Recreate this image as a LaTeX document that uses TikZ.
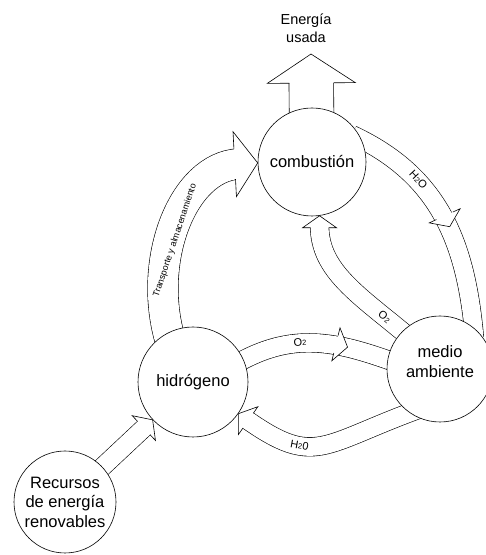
\documentclass[tikz,border=0pt]{standalone}
\usepackage{fontspec}
\setmainfont{Liberation Sans}
\usetikzlibrary{calc, decorations.markings, backgrounds}
\newcommand{\smallnum}[1]{{\fontsize{7.5}{8}\selectfont #1}}

\begin{document}
\begin{tikzpicture}[x=1pt, y=1pt,
  stock/.style={circle, draw, fill=white, line width=0.6pt, inner sep=0pt,
    minimum size=#1, align=center, font=\fontsize{16.5}{19.5}\selectfont},
  flow/.style={draw, line width=0.6pt, double=white, double distance=#1},
  headat/.style n args={4}{postaction={decorate, decoration={markings,
    mark=at position #1 with {\draw[fill=white, line width=0.6pt, shorten <=0pt, shorten >=0pt]
      (-#4,#2/2) -- (-#4,#3/2) -- (0,0) -- (-#4,-#3/2) -- (-#4,-#2/2);}}}},
  lbl/.style={font=\fontsize{11}{12}\selectfont, inner sep=1pt}]

\useasboundingbox (0,0) rectangle (486,555);

% the four stocks
\node[stock=108pt] (comb) at (312,393) {combustión};
\node[stock=110pt] (hyd) at (193,173) {hidrógeno};
\node[stock=106pt] (med) at (440,186) {medio\\ambiente\\[-5pt]};
\node[stock=102pt] (rec) at (65,53) {Recursos\\de energía\\renovables};

\coordinate (used) at (311,501);
\node[align=center, font=\fontsize{14.5}{18}\selectfont] (ener) at (306,527) {Energía\\usada};

% block arrows behind the circles
\begin{scope}[on background layer]
\draw[flow=44pt, shorten >=27pt, headat={0.9999}{44}{88}{29}] (comb.center) -- (used);
\draw[flow=30pt, shorten <=-10pt, shorten >=19pt, headat={0.9999}{30}{65}{23}]
  (hyd.117) to[out=107, in=183]
  node[sloped, below=1pt, pos=0.42, font=\fontsize{9}{10}\selectfont, inner sep=0pt] (tr) {Transporte y almacenamiento}
  (comb.181);
\draw[flow=18pt, shorten <=-10pt, shorten >=10pt, headat={0.9999}{18}{34}{12}]
  (med.135) to[out=140, in=270] node[lbl, sloped, pos=0.14] (o2a) {O\smallnum{2}} (comb.278);
\draw[flow=18pt, shorten <=-10pt, shorten >=-10pt, headat={0.55}{18}{34}{12}]
  (comb.25) to[out=-25, in=95] node[lbl, sloped, pos=0.3] (h2oa) {H\smallnum{2}O} (med.51);
\draw[flow=18pt, shorten <=-10pt, shorten >=-10pt, headat={0.72}{18}{34}{12}]
  (hyd.24) to[out=30, in=160] node[lbl, sloped, pos=0.4] (o2b) {O\smallnum{2}} (med.170);
\draw[flow=18pt, shorten <=-10pt, shorten >=10pt, headat={0.9999}{18}{34}{12}]
  (med.235) to[out=200, in=-35, looseness=1.4] node[lbl, sloped, pos=0.65] (h2ob) {H\smallnum{2}0} (hyd.-35);
\draw[flow=18pt, shorten >=10pt, headat={0.9999}{18}{34}{12}] (rec.center) -- (hyd);
\end{scope}
\end{tikzpicture}
\end{document}
